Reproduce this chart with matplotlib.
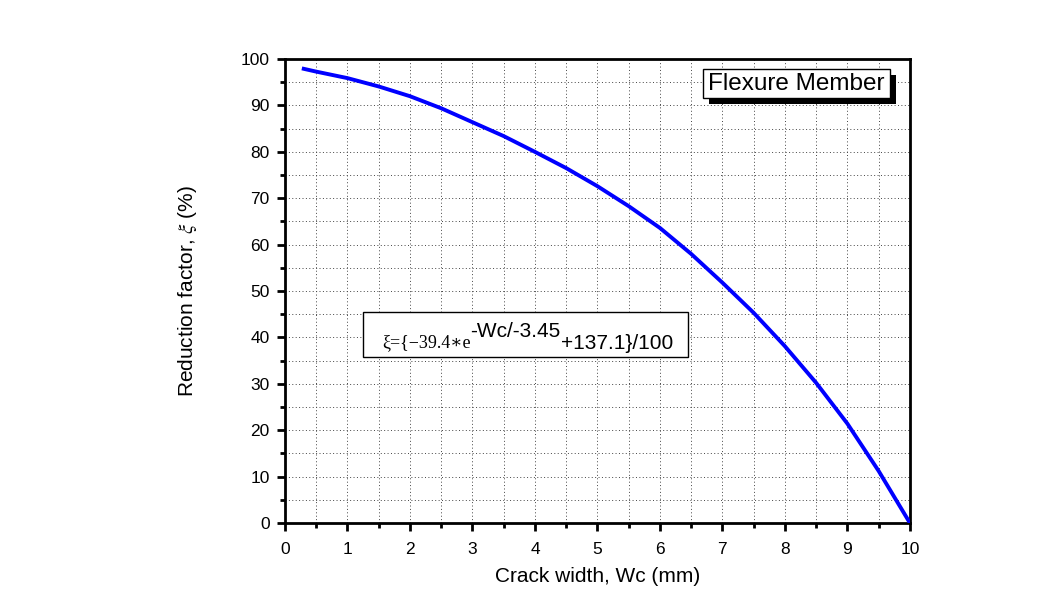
import matplotlib
matplotlib.use("Agg")
import matplotlib.pyplot as plt
from matplotlib.patches import Rectangle
from matplotlib.ticker import MultipleLocator
import numpy as np

plt.rcParams['font.family'] = ['Liberation Sans', 'DejaVu Sans']
plt.rcParams['mathtext.fontset'] = 'stix'

# valeurs
crack_width = [0.27, 0.5, 1, 1.5, 2, 2.5, 3, 3.5, 4, 4.5, 5, 5.5, 6, 6.5, 7, 7.5, 8, 8.5, 9, 9.5, 10]
reduction = [98.0, 97.3, 95.9, 94.1, 92.0, 89.4, 86.4, 83.4, 80.0, 76.5, 72.6, 68.3, 63.6, 58.0,
             51.8, 45.3, 38.1, 30.2, 21.4, 11.2, 0.0]

fig = plt.figure(figsize=(10.61, 5.97), dpi=100)
ax = fig.add_axes([0.2686, 0.124, 0.589, 0.777])

ax.plot(crack_width, reduction, color='#0000ff', lw=2.8, solid_capstyle='butt', zorder=5)

ax.set_xlim(0, 10)
ax.set_ylim(0, 100)
ax.xaxis.set_major_locator(MultipleLocator(1))
ax.xaxis.set_minor_locator(MultipleLocator(0.5))
ax.yaxis.set_major_locator(MultipleLocator(10))
ax.yaxis.set_minor_locator(MultipleLocator(5))
ax.tick_params(which='major', direction='out', length=6, width=2, labelsize=12.5)
ax.tick_params(axis='x', which='major', pad=8)
ax.tick_params(axis='y', which='major', pad=5)
ax.tick_params(which='minor', direction='out', length=3.5, width=2)
for s in ax.spines.values():
    s.set_linewidth(2)

ax.grid(True, which='both', ls=(0, (1, 2.5)), color='#444444', lw=0.7)

ax.set_xlabel("Crack width, Wc (mm)", fontsize=15, labelpad=7)
ax.set_ylabel(r"Reduction factor, $\xi$ (%)", fontsize=15, labelpad=30)

# boite "Flexure Member" avec ombre
tr = ax.transAxes
ax.add_patch(Rectangle((0.678, 0.904), 0.299, 0.062, transform=tr, fc='black', ec='none', zorder=8))
ax.add_patch(Rectangle((0.669, 0.916), 0.299, 0.062, transform=tr, fc='white', ec='black', lw=1, zorder=9))
ax.text(0.6765, 0.946, "Flexure Member", transform=tr, fontsize=17.5, va='center', ha='left', zorder=10)

# boite equation
ax.add_patch(Rectangle((0.125, 0.358), 0.52, 0.097, transform=tr, fc='white', ec='black', lw=1, zorder=9))
t1 = ax.text(0.155, 0.378, "ξ={−39.4∗e", transform=tr, fontsize=13,
             family=['Liberation Serif', 'DejaVu Serif'], va='baseline', ha='left', zorder=10)
t2 = ax.annotate("-Wc/-3.45", xy=(1, 0), xycoords=t1, xytext=(0, 8), textcoords='offset points',
                 fontsize=15, va='bottom', ha='left', zorder=10)
t3 = ax.annotate("+137.1}/100", xy=(1, 0), xycoords=t2, xytext=(0, -9), textcoords='offset points',
                 fontsize=15, va='bottom', ha='left', zorder=10)

fig.savefig("out.png", dpi=100)
